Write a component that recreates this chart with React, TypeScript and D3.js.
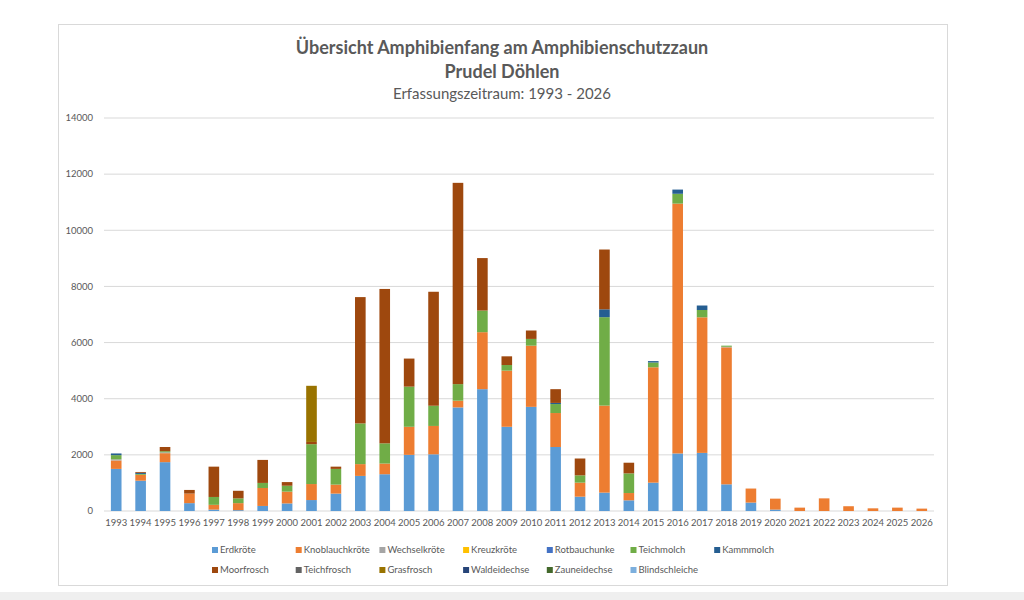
import * as d3 from 'd3';

const years = [
  '1993', '1994', '1995', '1996', '1997', '1998', '1999', '2000', '2001', '2002',
  '2003', '2004', '2005', '2006', '2007', '2008', '2009', '2010', '2011', '2012',
  '2013', '2014', '2015', '2016', '2017', '2018', '2019', '2020', '2021', '2022',
  '2023', '2024', '2025', '2026',
];

const seriesNames = [
  'Erdkröte', 'Knoblauchkröte', 'Wechselkröte', 'Kreuzkröte', 'Rotbauchunke', 'Teichmolch', 'Kammmolch',
  'Moorfrosch', 'Teichfrosch', 'Grasfrosch', 'Waldeidechse', 'Zauneidechse', 'Blindschleiche',
];

const seriesColors = [
  '#5b9bd5', '#ed7d31', '#a5a5a5', '#ffc000', '#4472c4', '#70ad47', '#255e91',
  '#9e480e', '#636363', '#997300', '#264478', '#43682b', '#7cafdd',
];

const erdkroete = [1500, 1080, 1740, 280, 50, 30, 180, 270, 390, 620, 1250, 1310, 2000, 2020, 3690, 4340, 3000, 3710, 2280, 510, 655, 380, 1010, 2050, 2070, 950, 300, 50, 0, 0, 0, 0, 0, 0];
const knoblauchkroete = [300, 210, 320, 340, 170, 250, 640, 420, 570, 320, 420, 380, 1000, 1010, 240, 2030, 2000, 2180, 1210, 500, 3100, 260, 4110, 8900, 4830, 4880, 500, 390, 120, 450, 170, 95, 120, 85];
const wechselkroete = [40, 0, 30, 0, 0, 0, 0, 0, 0, 0, 0, 0, 0, 0, 0, 0, 0, 0, 0, 0, 0, 0, 0, 0, 0, 20, 0, 0, 0, 0, 0, 0, 0, 0];
const kreuzkroete = new Array(34).fill(0);
const rotbauchunke = new Array(34).fill(0);
const teichmolch = [150, 30, 40, 0, 280, 170, 180, 210, 1420, 560, 1450, 720, 1430, 720, 590, 770, 200, 240, 320, 260, 3150, 700, 170, 350, 260, 40, 0, 0, 0, 0, 0, 0, 0, 0];
const kammmolch = [60, 40, 0, 0, 0, 0, 0, 0, 0, 0, 0, 0, 0, 0, 0, 0, 0, 0, 40, 0, 280, 0, 50, 150, 160, 0, 0, 0, 0, 0, 0, 0, 0, 0];
const moorfrosch = [0, 30, 150, 130, 1080, 270, 820, 130, 80, 80, 4500, 5500, 1000, 4060, 7170, 1870, 310, 300, 490, 600, 2130, 380, 0, 0, 0, 0, 0, 0, 0, 0, 0, 0, 0, 0];
const teichfrosch = new Array(34).fill(0);
const grasfrosch = [0, 0, 0, 0, 0, 0, 0, 0, 2000, 0, 0, 0, 0, 0, 0, 0, 0, 0, 0, 0, 0, 0, 0, 0, 0, 0, 0, 0, 0, 0, 0, 0, 0, 0];
const waldeidechse = new Array(34).fill(0);
const zauneidechse = new Array(34).fill(0);
const blindschleiche = new Array(34).fill(0);

const seriesValues = [
  erdkroete, knoblauchkroete, wechselkroete, kreuzkroete, rotbauchunke, teichmolch, kammmolch,
  moorfrosch, teichfrosch, grasfrosch, waldeidechse, zauneidechse, blindschleiche,
];

const yTicks = [0, 2000, 4000, 6000, 8000, 10000, 12000, 14000];

const FONT = 'Lato, "Open Sans", sans-serif';
const TEXT = '#595959';

export default function App() {
  const width = 1024;
  const height = 600;
  const plot = { left: 104, right: 934, top: 118, bottom: 511 };

  const rows = years.map((year, i) => {
    const row: Record<string, number | string> = { year };
    seriesNames.forEach((name, s) => {
      row[name] = seriesValues[s][i];
    });
    return row;
  });

  const stacked = d3.stack<Record<string, number | string>>().keys(seriesNames)(rows as any);

  const x = d3
    .scaleBand<string>()
    .domain(years)
    .range([plot.left, plot.right])
    .paddingInner(0.565)
    .paddingOuter(0.2825);

  const y = d3.scaleLinear().domain([0, 14000]).range([plot.bottom, plot.top]);

  return (
    <div style={{ position: 'absolute', left: 0, top: 0 }}>
      <svg width={width} height={height} style={{ display: 'block', background: '#fff' }}>
        <rect x={58.5} y={24.5} width={889} height={561} fill="#fff" stroke="#d9d9d9" />
        <rect x={0} y={592} width={width} height={8} fill="#efefef" />

        <text x={502} y={54} textAnchor="middle" fontFamily={FONT} fontWeight={700} fontSize={18} fill={TEXT}>
          Übersicht Amphibienfang am Amphibienschutzzaun
        </text>
        <text x={502} y={78} textAnchor="middle" fontFamily={FONT} fontWeight={700} fontSize={18} fill={TEXT}>
          Prudel Döhlen
        </text>
        <text x={502} y={99} textAnchor="middle" fontFamily={FONT} fontSize={15} fill={TEXT}>
          Erfassungszeitraum: 1993 - 2026
        </text>

        {yTicks.map((t) => (
          <g key={t}>
            <line x1={plot.left} x2={plot.right} y1={y(t)} y2={y(t)} stroke="#d9d9d9" strokeWidth={1} />
            <text x={93} y={y(t)} dy="0.35em" textAnchor="end" fontFamily={FONT} fontSize={9.5} fill={TEXT}>
              {t}
            </text>
          </g>
        ))}

        {stacked.map((layer, s) => (
          <g key={seriesNames[s]} fill={seriesColors[s]}>
            {layer.map((d, i) => {
              const h = y(d[0]) - y(d[1]);
              if (h <= 0) return null;
              return <rect key={i} x={x(years[i])} y={y(d[1])} width={x.bandwidth()} height={h} />;
            })}
          </g>
        ))}

        {years.map((yr) => (
          <text
            key={yr}
            x={(x(yr) ?? 0) + x.bandwidth() / 2}
            y={526}
            textAnchor="middle"
            fontFamily={FONT}
            fontSize={9.5}
            fill={TEXT}
          >
            {yr}
          </text>
        ))}

        {seriesNames.map((name, i) => {
          const col = i % 7;
          const row = Math.floor(i / 7);
          const lx = 212 + col * 83.7;
          const ly = 550 + row * 20;
          return (
            <g key={name}>
              <rect x={lx} y={ly - 3} width={6} height={6} fill={seriesColors[i]} />
              <text x={lx + 8} y={ly} dy="0.35em" fontFamily={FONT} fontSize={9.5} fill={TEXT}>
                {name}
              </text>
            </g>
          );
        })}
      </svg>
    </div>
  );
}
